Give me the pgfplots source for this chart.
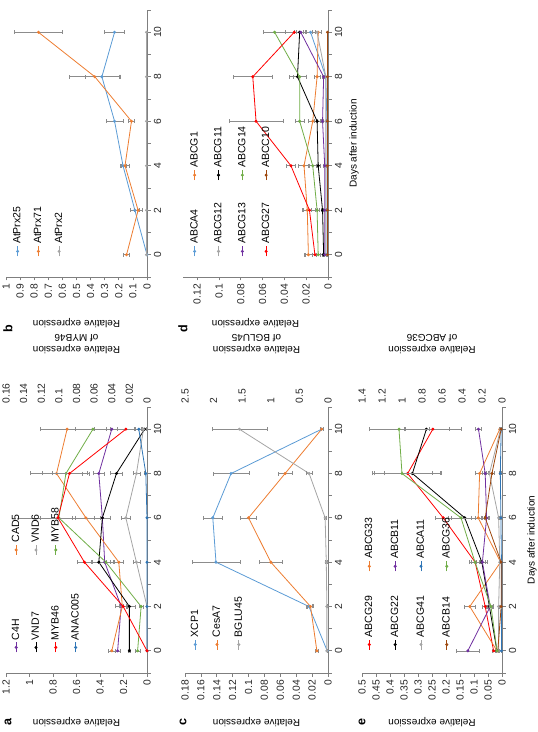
\documentclass[border=0pt]{standalone}
\usepackage{fontspec}
\setmainfont{Liberation Sans}
\usepackage{pgfplots}
\pgfplotsset{compat=1.18}
\definecolor{cblue}{HTML}{5B9BD5}
\definecolor{cdblue}{HTML}{2E75B6}
\definecolor{corange}{HTML}{ED7D31}
\definecolor{cgray}{HTML}{A5A5A5}
\definecolor{cpurple}{HTML}{7030A0}
\definecolor{cred}{HTML}{FF0000}
\definecolor{cgreen}{HTML}{70AD47}
\definecolor{cbrown}{HTML}{9E480E}
\definecolor{axgray}{HTML}{7F7F7F}
\definecolor{ebgray}{HTML}{8C8C8C}
\pgfplotsset{
 panel/.style={scale only axis, width=266pt, xmin=-1, xmax=11,
  xtick={-1,0,...,11}, xticklabels={,0,,2,,4,,6,,8,,10,},
  axis x line*=bottom, axis y line*=left, tick align=outside, major tick length=3.5pt,
  axis line style={draw=axgray, line width=0.7pt, -},
  every tick/.style={draw=axgray, line width=0.7pt},
  tick label style={font=\fontsize{10.3}{12}\selectfont, text=black!85},
  /pgf/number format/assume math mode=true, /pgf/number format/fixed,
  scaled y ticks=false, ymin=0,
  label style={font=\fontsize{11.5}{13.5}\selectfont, text=black!85},
  every axis y label/.style={at={(axis description cs:-0.185,0.5)}, anchor=center, rotate=90},
  every axis x label/.style={at={(axis description cs:0.5,0)}, yshift=-26pt, anchor=center},
  legend cell align=left,
  legend style={draw=none, fill=none, font=\fontsize{10.5}{12}\selectfont, inner sep=0pt},
  legend image code/.code={\draw[mark repeat=2,mark phase=2,##1] plot coordinates {(0pt,0pt) (5pt,0pt) (10pt,0pt)};},
  every axis plot/.append style={line width=0.8pt, mark=*, mark size=1.1pt},
  clip=false},
 sec/.style={scale only axis, width=266pt, xmin=-1, xmax=11,
  axis x line=none, axis y line*=right, axis line style={draw=none}, major tick length=0pt,
  tick label style={font=\fontsize{10.3}{12}\selectfont, text=black!85},
  /pgf/number format/assume math mode=true, /pgf/number format/fixed,
  scaled y ticks=false, ymin=0,
  label style={font=\fontsize{11.5}{13.5}\selectfont, text=black!85},
  every axis y label/.style={at={(axis description cs:1.237,0.5)}, anchor=center, rotate=90, align=center},
  every axis plot/.append style={line width=0.8pt, mark=*, mark size=1.1pt},
  clip=false},
 eb/.style={/pgfplots/error bars/y dir=both, /pgfplots/error bars/y explicit,
  /pgfplots/error bars/error bar style={line width=0.5pt, draw=ebgray},
  /pgfplots/error bars/error mark options={rotate=90, mark size=2pt, line width=0.5pt, draw=ebgray}},
}
\begin{document}
\begin{tikzpicture}[rotate=90, transform shape]
\useasboundingbox (0pt,0pt) rectangle (732pt,-538pt);
% ---------------- panel a ----------------
\begin{axis}[panel, height=141pt, at={(59pt,-147pt)}, anchor=south west,
  ymax=1.2, ytick={0,0.2,0.4,0.6,0.8,1,1.2}, ylabel={Relative expression},
  legend columns=2,
  legend style={at={(axis description cs:0.075,0.975)}, anchor=north west, row sep=7pt,
   /tikz/every even column/.append style={column sep=36pt}}]
\addplot[color=cpurple, eb] coordinates {(0,0.25)+-(0,0.02) (2,0.22)+-(0,0.05) (4,0.36)+-(0,0.05) (6,0.38)+-(0,0.07) (8,0.41)+-(0,0.05) (10,0.30)+-(0,0.05)};
\addlegendentry{C4H}
\addplot[color=corange, eb] coordinates {(0,0.30)+-(0,0.03) (2,0.21)+-(0,0.03) (4,0.24)+-(0,0.04) (6,0.52)+-(0,0.12) (8,0.77)+-(0,0.22) (10,0.68)+-(0,0.23)};
\addlegendentry{CAD5}
\addplot[color=black, eb] coordinates {(0,0.15)+-(0,0.01) (2,0.15)+-(0,0.05) (4,0.41)+-(0,0.06) (6,0.38)+-(0,0.07) (8,0.26)+-(0,0.05) (10,0.02)+-(0,0.02)};
\addlegendentry{VND7}
\addplot[color=cgray, eb] coordinates {(0,0.0)+-(0,0) (2,0.0)+-(0,0) (4,0.09)+-(0,0.03) (6,0.18)+-(0,0.04) (8,0.09)+-(0,0.03) (10,0.03)+-(0,0.02)};
\addlegendentry{VND6}
\addlegendimage{color=cred, line width=0.8pt, mark=*, mark size=1.1pt}
\addlegendentry{MYB46}
\addplot[color=cgreen, eb] coordinates {(0,0.08)+-(0,0.02) (2,0.05)+-(0,0.02) (4,0.35)+-(0,0.06) (6,0.75)+-(0,0.35) (8,0.69)+-(0,0.2) (10,0.46)+-(0,0.15)};
\addlegendentry{MYB58}
\addplot[color=cdblue, eb] coordinates {(0,0)+-(0,0) (2,0)+-(0,0) (4,0)+-(0,0) (6,0)+-(0,0) (8,0.01)+-(0,0.01) (10,0.07)+-(0,0.03)};
\addlegendentry{ANAC005}
\end{axis}
\begin{axis}[sec, height=141pt, at={(59pt,-147pt)}, anchor=south west,
  ymax=0.16, ytick={0,0.02,0.04,0.06,0.08,0.1,0.12,0.14,0.16},
  ylabel={Relative expression\\of MYB46}]
\addplot[color=cred, eb] coordinates {(0,0.0)+-(0,0) (2,0.027)+-(0,0.004) (4,0.071)+-(0,0.008) (6,0.101)+-(0,0.02) (8,0.088)+-(0,0.02) (10,0.024)+-(0,0.01)};
\end{axis}
% ---------------- panel b ----------------
\begin{axis}[panel, width=267pt, height=141pt, at={(455pt,-147pt)}, anchor=south west,
  ymax=1, ytick={0,0.1,0.2,0.3,0.4,0.5,0.6,0.7,0.8,0.9,1}, ylabel={Relative expression},
  every axis y label/.style={at={(axis description cs:-0.172,0.5)}, anchor=center, rotate=90},
  legend style={at={(axis description cs:0.075,0.965)}, anchor=north west, row sep=8pt}]
\addplot[color=cblue, eb] coordinates {(0,0.0)+-(0,0) (2,0.086)+-(0,0.03) (4,0.17)+-(0,0.02) (6,0.23)+-(0,0.06) (8,0.32)+-(0,0.12) (10,0.23)+-(0,0.07)};
\addlegendentry{AtPrx25}
\addplot[color=corange, eb] coordinates {(0,0.145)+-(0,0.02) (2,0.063)+-(0,0.03) (4,0.156)+-(0,0.03) (6,0.11)+-(0,0.02) (8,0.37)+-(0,0.18) (10,0.77)+-(0,0.17)};
\addlegendentry{AtPrx71}
\addplot[color=cgray] coordinates {(0,0.003) (2,0.003) (4,0.003) (6,0.003) (8,0.003) (10,0.003)};
\addlegendentry{AtPrx2}
\end{axis}
% ---------------- panel c ----------------
\begin{axis}[panel, height=143pt, at={(59pt,-328pt)}, anchor=south west,
  ymax=0.18, ytick={0,0.02,0.04,0.06,0.08,0.1,0.12,0.14,0.16,0.18}, ylabel={Relative expression},
  legend style={at={(axis description cs:0.086,0.975)}, anchor=north west, row sep=9pt}]
\addplot[color=cblue, eb] coordinates {(0,0.001)+-(0,0) (2,0.024)+-(0,0.004) (4,0.141)+-(0,0.03) (6,0.145)+-(0,0.012) (8,0.122)+-(0,0.023) (10,0.008)+-(0,0.002)};
\addlegendentry{XCP1}
\addplot[color=corange, eb] coordinates {(0,0.014)+-(0,0.002) (2,0.022)+-(0,0.004) (4,0.072)+-(0,0.015) (6,0.10)+-(0,0.01) (8,0.054)+-(0,0.009) (10,0.008)+-(0,0.002)};
\addlegendentry{CesA7}
\addlegendimage{color=cgray, line width=0.8pt, mark=*, mark size=1.1pt}
\addlegendentry{BGLU45}
\end{axis}
\begin{axis}[sec, height=143pt, at={(59pt,-328pt)}, anchor=south west,
  ymax=2.5, ytick={0,0.5,1,1.5,2,2.5},
  ylabel={Relative expression\\of BGLU45}]
\addplot[color=cgray, eb] coordinates {(0,0.02)+-(0,0) (2,0.02)+-(0,0) (4,0.03)+-(0,0.01) (6,0.05)+-(0,0.02) (8,0.33)+-(0,0.05) (10,1.55)+-(0,0.48)};
\end{axis}
% ---------------- panel d ----------------
\begin{axis}[panel, width=267pt, height=145pt, at={(455pt,-328pt)}, anchor=south west,
  ymax=0.133, ytick={0,0.02,0.04,0.06,0.08,0.1,0.12}, ylabel={Relative expression},
  xlabel={Days after induction},
  every axis y label/.style={at={(axis description cs:-0.172,0.5)}, anchor=center, rotate=90},
  legend columns=2,
  legend style={at={(axis description cs:0.075,0.965)}, anchor=north west, row sep=11pt,
   /tikz/every even column/.append style={column sep=20pt}}]
\addplot[color=cblue, eb] coordinates {(0,0.001)+-(0,0) (2,0.001)+-(0,0) (4,0.001)+-(0,0) (6,0.001)+-(0,0) (8,0.002)+-(0,0.001) (10,0.016)+-(0,0.004)};
\addlegendentry{ABCA4}
\addplot[color=corange, eb] coordinates {(0,0.018)+-(0,0.004) (2,0.019)+-(0,0.004) (4,0.022)+-(0,0.005) (6,0.014)+-(0,0.004) (8,0.010)+-(0,0.003) (10,0.009)+-(0,0.003)};
\addlegendentry{ABCG1}
\addplot[color=cgray, eb] coordinates {(0,0.002)+-(0,0) (2,0.002)+-(0,0) (4,0.002)+-(0,0) (6,0.002)+-(0,0) (8,0.002)+-(0,0.001) (10,0.010)+-(0,0.004)};
\addlegendentry{ABCG12}
\addplot[color=black, eb] coordinates {(0,0.004)+-(0,0.001) (2,0.005)+-(0,0.001) (4,0.009)+-(0,0.002) (6,0.010)+-(0,0.003) (8,0.028)+-(0,0.008) (10,0.026)+-(0,0.005)};
\addlegendentry{ABCG11}
\addplot[color=cpurple, eb] coordinates {(0,0.003)+-(0,0.001) (2,0.003)+-(0,0.001) (4,0.003)+-(0,0.001) (6,0.005)+-(0,0.001) (8,0.004)+-(0,0.001) (10,0.025)+-(0,0.004)};
\addlegendentry{ABCG13}
\addplot[color=cgreen, eb] coordinates {(0,0.009)+-(0,0.002) (2,0.010)+-(0,0.002) (4,0.014)+-(0,0.004) (6,0.026)+-(0,0.004) (8,0.026)+-(0,0.006) (10,0.049)+-(0,0.01)};
\addlegendentry{ABCG14}
\addplot[color=cred, eb] coordinates {(0,0.012)+-(0,0.009) (2,0.017)+-(0,0.007) (4,0.034)+-(0,0.004) (6,0.066)+-(0,0.025) (8,0.069)+-(0,0.018) (10,0.031)+-(0,0.008)};
\addlegendentry{ABCG27}
\addplot[color=cbrown] coordinates {(0,0.0005) (2,0.0005) (4,0.0005) (6,0.0005) (8,0.0005) (10,0.0005)};
\addlegendentry{ABCC10}
\end{axis}
% ---------------- panel e ----------------
\begin{axis}[panel, height=140pt, at={(59pt,-502pt)}, anchor=south west,
  ymax=0.5, ytick={0,0.05,0.1,0.15,0.2,0.25,0.3,0.35,0.4,0.45,0.5}, ylabel={Relative expression},
  xlabel={Days after induction},
  every axis x label/.style={at={(axis description cs:0.5,0)}, yshift=-30pt, anchor=center},
  legend columns=2,
  legend style={at={(axis description cs:0.086,0.995)}, anchor=north west, row sep=13pt,
   /tikz/every even column/.append style={column sep=22pt}}]
\addplot[color=cred, eb] coordinates {(0,0.030)+-(0,0.005) (2,0.060)+-(0,0.01) (4,0.096)+-(0,0.02) (6,0.21)+-(0,0.03) (8,0.337)+-(0,0.12) (10,0.247)+-(0,0.1)};
\addlegendentry{ABCG29}
\addplot[color=corange, eb] coordinates {(0,0.018)+-(0,0.004) (2,0.115)+-(0,0.02) (4,0.005)+-(0,0.002) (6,0.085)+-(0,0.01) (8,0.08)+-(0,0.015) (10,0.008)+-(0,0.003)};
\addlegendentry{ABCG33}
\addplot[color=black, eb] coordinates {(0,0.018)+-(0,0.004) (2,0.045)+-(0,0.01) (4,0.072)+-(0,0.02) (6,0.133)+-(0,0.06) (8,0.32)+-(0,0.1) (10,0.27)+-(0,0.08)};
\addlegendentry{ABCG22}
\addplot[color=cpurple, eb] coordinates {(0,0.122)+-(0,0.04) (2,0.042)+-(0,0.01) (4,0.07)+-(0,0.01) (6,0.055)+-(0,0.01) (8,0.06)+-(0,0.01) (10,0.084)+-(0,0.01)};
\addlegendentry{ABCB11}
\addplot[color=cgray, eb] coordinates {(0,0.012)+-(0,0.003) (2,0.012)+-(0,0.003) (4,0.008)+-(0,0.002) (6,0.012)+-(0,0.003) (8,0.045)+-(0,0.01) (10,0.005)+-(0,0.002)};
\addlegendentry{ABCG41}
\addplot[color=cdblue, eb] coordinates {(0,0.002)+-(0,0) (2,0.002)+-(0,0) (4,0.002)+-(0,0) (6,0.004)+-(0,0.002) (8,0.006)+-(0,0.003) (10,0.003)+-(0,0.001)};
\addlegendentry{ABCA11}
\addplot[color=cbrown, eb] coordinates {(0,0.015)+-(0,0.004) (2,0.003)+-(0,0.001) (4,0.003)+-(0,0.001) (6,0.06)+-(0,0.01) (8,0.036)+-(0,0.01) (10,0.003)+-(0,0.001)};
\addlegendentry{ABCB14}
\addlegendimage{color=cgreen, line width=0.8pt, mark=*, mark size=1.1pt}
\addlegendentry{ABCG36}
\end{axis}
\begin{axis}[sec, height=140pt, at={(59pt,-502pt)}, anchor=south west,
  ymax=1.4, ytick={0,0.2,0.4,0.6,0.8,1,1.2,1.4},
  ylabel={Relative expression\\of ABCG36}]
\addplot[color=cgreen, eb] coordinates {(0,0.05)+-(0,0.01) (2,0.11)+-(0,0.02) (4,0.27)+-(0,0.04) (6,0.41)+-(0,0.1) (8,1.0)+-(0,0.3) (10,1.03)+-(0,0.3)};
\end{axis}
% panel letters
\node[font=\bfseries\fontsize{12.5}{12.5}\selectfont] at (10pt,-8pt) {a};
\node[font=\bfseries\fontsize{12.5}{12.5}\selectfont] at (403pt,-8pt) {b};
\node[font=\bfseries\fontsize{12.5}{12.5}\selectfont] at (10pt,-183pt) {c};
\node[font=\bfseries\fontsize{12.5}{12.5}\selectfont] at (403pt,-183pt) {d};
\node[font=\bfseries\fontsize{12.5}{12.5}\selectfont] at (10pt,-362pt) {e};
\end{tikzpicture}
\end{document}
